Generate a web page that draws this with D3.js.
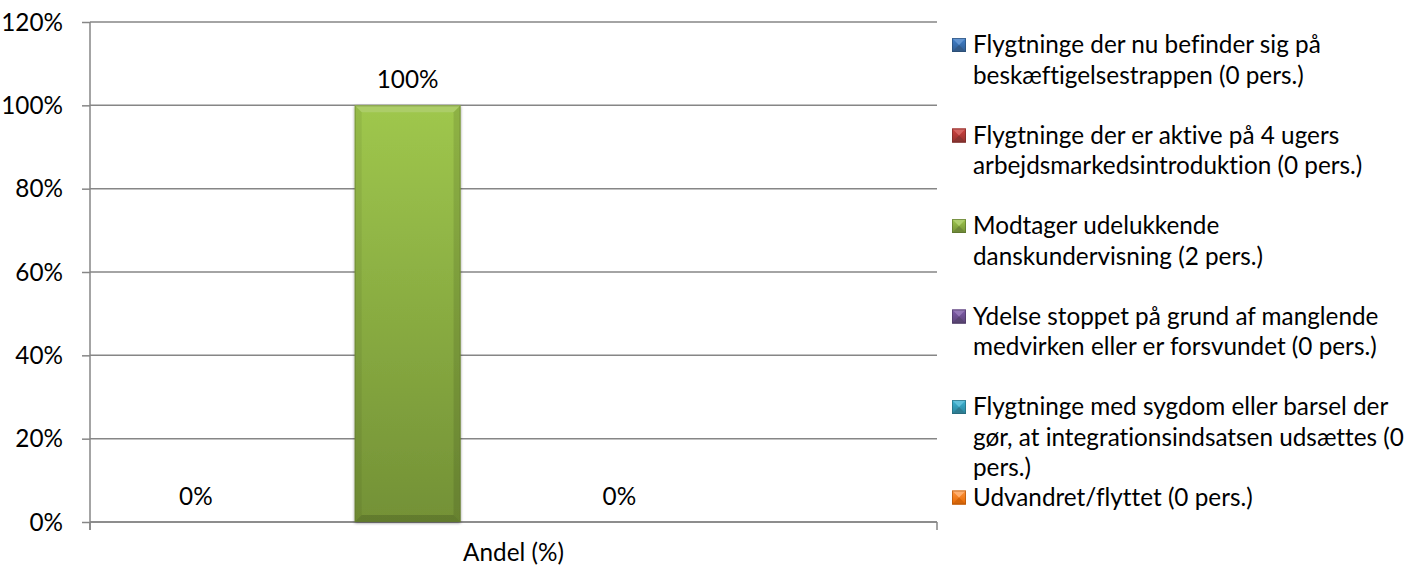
<!DOCTYPE html>
<html>
<head>
<meta charset="utf-8">
<script src="https://cdn.jsdelivr.net/npm/d3@7"></script>
<style>
  body { margin: 0; background: #fff; }
  svg { font-family: Lato, "Open Sans", sans-serif; font-variant-ligatures: none; }
  .lbl { font-size: 24.3px; fill: #000; }
</style>
</head>
<body>
<svg width="1421" height="567"></svg>
<script>
// data
var categories = ["Andel (%)"];
var seriesNames = [
  "Flygtninge der nu befinder sig på beskæftigelsestrappen (0 pers.)",
  "Flygtninge der er aktive på 4 ugers arbejdsmarkedsintroduktion (0 pers.)",
  "Modtager udelukkende danskundervisning (2 pers.)",
  "Ydelse stoppet på grund af manglende medvirken eller er forsvundet (0 pers.)",
  "Flygtninge med sygdom eller barsel der gør, at integrationsindsatsen udsættes (0 pers.)",
  "Udvandret/flyttet (0 pers.)"
];
var legendLines = [
  ["Flygtninge der nu befinder sig på", "beskæftigelsestrappen (0 pers.)"],
  ["Flygtninge der er aktive på 4 ugers", "arbejdsmarkedsintroduktion (0 pers.)"],
  ["Modtager udelukkende", "danskundervisning (2 pers.)"],
  ["Ydelse stoppet på grund af manglende", "medvirken eller er forsvundet (0 pers.)"],
  ["Flygtninge med sygdom eller barsel der", "gør, at integrationsindsatsen udsættes (0", "pers.)"],
  ["Udvandret/flyttet (0 pers.)"]
];
var seriesValues = [0, 0, 1, 0, 0, 0];
var showLabel = [true, false, true, false, true, false];
var seriesColors = ["#4f81bd", "#c0504d", "#9bbb59", "#8064a2", "#4bacc6", "#f79646"];
var yTicks = [0, 0.2, 0.4, 0.6, 0.8, 1.0, 1.2];

var svg = d3.select("svg");
var pLeft = 90, pRight = 937, pTop = 22, pBottom = 522;
var gray = "#868686";

var x0 = d3.scaleBand().domain(categories).range([pLeft, pRight]);
// Excel leaves room for 7 slots (half a slot of gap on each side)
var x1 = d3.scaleBand().domain(d3.range(7)).range([0, x0.bandwidth()]).paddingOuter(0.5).paddingInner(0);
var y = d3.scaleLinear().domain([0, 1.2]).range([pBottom, pTop]);

var defs = svg.append("defs");
var grad = function(id, c) {
  var h = d3.hsl(c);
  var t = d3.hsl(h.h, Math.min(1, h.s * 1.25), h.l * 1.0);
  var b = d3.hsl(h.h, Math.min(1, h.s * 1.1), h.l * 0.72);
  var g = defs.append("linearGradient").attr("id", id).attr("x1", 0).attr("y1", 0).attr("x2", 0).attr("y2", 1);
  g.append("stop").attr("offset", "0%").attr("stop-color", t);
  g.append("stop").attr("offset", "100%").attr("stop-color", b);
};
seriesColors.forEach(function(c, i) { grad("g" + i, c); });
var f = defs.append("filter").attr("id", "sh").attr("x", "-20%").attr("y", "-20%").attr("width", "140%").attr("height", "140%");
f.append("feDropShadow").attr("dx", 0).attr("dy", 1).attr("stdDeviation", 1.8).attr("flood-color", "#000").attr("flood-opacity", 0.45);

// gridlines
svg.append("g").selectAll("line").data(yTicks).enter().append("line")
  .attr("x1", pLeft).attr("x2", pRight)
  .attr("y1", function(d) { return y(d); }).attr("y2", function(d) { return y(d); })
  .attr("stroke", gray).attr("stroke-width", 1.5);

// y axis
var ya = svg.append("g").attr("transform", "translate(" + pLeft + ",0)")
  .call(d3.axisLeft(y).tickValues(yTicks).tickSize(8).tickSizeOuter(0).tickPadding(19).tickFormat(d3.format(".0%")));
ya.select(".domain").remove();
ya.selectAll("line").attr("stroke", gray).attr("stroke-width", 1.5);
ya.selectAll("text").attr("class", "lbl").attr("fill", null).attr("dy", "0.34em");
ya.attr("font-family", null).attr("font-size", null);
svg.append("line").attr("x1", pLeft).attr("x2", pLeft).attr("y1", pTop).attr("y2", pBottom + 8)
  .attr("stroke", gray).attr("stroke-width", 1.5);

// bottom axis: ticks at category boundaries
svg.append("line").attr("x1", pLeft).attr("x2", pRight).attr("y1", pBottom).attr("y2", pBottom)
  .attr("stroke", gray).attr("stroke-width", 1.5);
categories.forEach(function(c) {
  [x0(c), x0(c) + x0.bandwidth()].forEach(function(xx) {
    svg.append("line").attr("x1", xx).attr("x2", xx).attr("y1", pBottom).attr("y2", pBottom + 8)
      .attr("stroke", gray).attr("stroke-width", 1.5);
  });
  svg.append("text").attr("class", "lbl").attr("x", x0(c) + x0.bandwidth() / 2).attr("y", 561)
    .attr("text-anchor", "middle").text(c);
});

// bars with bevel
var bars = svg.append("g");
seriesValues.forEach(function(v, i) {
  var bx = x0(categories[0]) + x1(i), bw = x1.bandwidth();
  var by = y(v), bh = pBottom - by;
  if (bh > 0) {
    var b = 7;
    var g = bars.append("g");
    var c = d3.hsl(seriesColors[i]);
    g.append("rect").attr("x", bx).attr("y", by).attr("width", bw).attr("height", bh)
      .attr("fill", "url(#g" + i + ")").attr("filter", "url(#sh)");
    g.append("polygon").attr("points", [[bx, by], [bx + bw, by], [bx + bw - b, by + b], [bx + b, by + b]].join(" "))
      .attr("fill", d3.hsl(c.h, Math.min(1, c.s * 1.2), c.l * 1.12));
    g.append("polygon").attr("points", [[bx, by], [bx + b, by + b], [bx + b, by + bh - b], [bx, by + bh]].join(" "))
      .attr("fill", "#000").attr("opacity", 0.06);
    g.append("polygon").attr("points", [[bx + bw, by], [bx + bw - b, by + b], [bx + bw - b, by + bh - b], [bx + bw, by + bh]].join(" "))
      .attr("fill", "#000").attr("opacity", 0.1);
    g.append("polygon").attr("points", [[bx, by + bh], [bx + b, by + bh - b], [bx + bw - b, by + bh - b], [bx + bw, by + bh]].join(" "))
      .attr("fill", "#000").attr("opacity", 0.15);
    g.append("rect").attr("x", bx + 0.5).attr("y", by + 0.5).attr("width", bw - 1).attr("height", bh - 1)
      .attr("fill", "none").attr("stroke", d3.hsl(c.h, c.s, c.l * 0.6)).attr("stroke-opacity", 0.5);
  }
  if (showLabel[i]) {
    svg.append("text").attr("class", "lbl").attr("x", bx + bw / 2).attr("y", by - 17)
      .attr("text-anchor", "middle").text(d3.format(".0%")(v));
  }
});

// legend
var legX = 952, legY0 = 53, legStep = 90.5, lineH = 30.5, ms = 14;
var leg = svg.append("g");
seriesNames.forEach(function(name, i) {
  var ly = legY0 + i * legStep;
  var c = d3.hsl(seriesColors[i]);
  var g = leg.append("g");
  var my = ly - 15;
  g.append("rect").attr("x", legX).attr("y", my).attr("width", ms).attr("height", ms)
    .attr("fill", "url(#g" + i + ")");
  g.append("polygon").attr("points", [[legX, my], [legX + ms, my], [legX + ms / 2, my + ms / 2]].join(" "))
    .attr("fill", d3.hsl(c.h, Math.min(1, c.s * 1.2), c.l * 1.15));
  g.append("polygon").attr("points", [[legX, my + ms], [legX + ms, my + ms], [legX + ms / 2, my + ms / 2]].join(" "))
    .attr("fill", d3.hsl(c.h, c.s, c.l * 0.7));
  g.append("rect").attr("x", legX + 0.5).attr("y", my + 0.5).attr("width", ms - 1).attr("height", ms - 1)
    .attr("fill", "none").attr("stroke", d3.hsl(c.h, c.s, c.l * 0.55)).attr("stroke-opacity", 0.6);
  legendLines[i].forEach(function(t, k) {
    g.append("text").attr("class", "lbl").attr("x", 973).attr("y", ly + k * lineH).text(t);
  });
});
</script>
</body>
</html>
